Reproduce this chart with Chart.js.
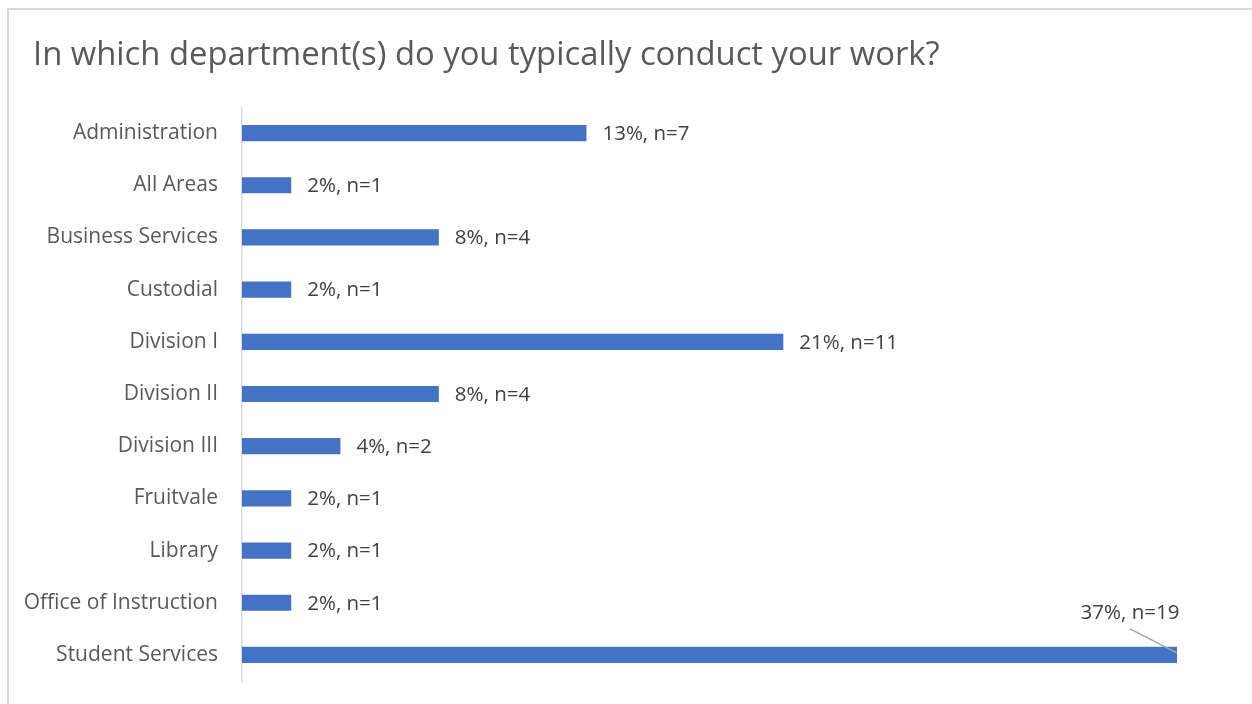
<!DOCTYPE html>
<html>
<head>
<meta charset="utf-8">
<script src="https://cdn.jsdelivr.net/npm/chart.js@4"></script>
<style>
  body { margin: 0; background: #fff; overflow: hidden; }
  #frame { position: absolute; left: 7px; top: 8px; width: 1260px; height: 720px; border: 2px solid #d9d9d9; box-sizing: border-box; }
  #myChart { position: absolute; left: 0; top: 0; }
</style>
</head>
<body>
<div id="frame"></div>
<canvas id="myChart" width="1252" height="704"></canvas>
<script>
const departments = ['Administration', 'All Areas', 'Business Services', 'Custodial', 'Division I', 'Division II',
  'Division III', 'Fruitvale', 'Library', 'Office of Instruction', 'Student Services'];
const counts = [7, 1, 4, 1, 11, 4, 2, 1, 1, 1, 19];
const percents = ['13%', '2%', '8%', '2%', '21%', '8%', '4%', '2%', '2%', '2%', '37%'];
const titleText = 'In which department(s) do you typically conduct your work?';

const FONT = '"Open Sans", sans-serif';

// chart title, drawn by hand so it can sit left of the axis labels
const titlePlugin = {
    id: 'leftTitle',
    afterDraw(chart) {
        const ctx = chart.ctx;
        ctx.save();
        ctx.font = '32.8px ' + FONT;
        ctx.fillStyle = '#595959';
        ctx.textAlign = 'left';
        ctx.textBaseline = 'alphabetic';
        ctx.fillText(titleText, 33, 65);
        ctx.restore();
    }
};

// value labels at bar ends; the last one sits above with a leader line
const valueLabels = {
    id: 'valueLabels',
    afterDatasetsDraw(chart) {
        const ctx = chart.ctx;
        const meta = chart.getDatasetMeta(0);
        ctx.save();
        ctx.font = '20.5px ' + FONT;
        ctx.fillStyle = '#404040';
        ctx.textBaseline = 'middle';
        meta.data.forEach((bar, i) => {
            const txt = percents[i] + ', n=' + counts[i];
            if (i === counts.length - 1) {
                ctx.textAlign = 'center';
                ctx.fillText(txt, bar.x - 47, bar.y - 42);
                ctx.strokeStyle = '#a6a6a6';
                ctx.lineWidth = 1.5;
                ctx.beginPath();
                ctx.moveTo(bar.x - 47, bar.y - 26);
                ctx.lineTo(bar.x, bar.y - 2);
                ctx.stroke();
            } else {
                ctx.textAlign = 'left';
                ctx.fillText(txt, bar.x + 16, bar.y + 1);
            }
        });
        ctx.restore();
    }
};

new Chart(document.getElementById('myChart'), {
    type: 'bar',
    data: {
        labels: departments,
        datasets: [{
            data: counts,
            backgroundColor: '#4472c4',
            borderWidth: 0,
            barPercentage: 0.62,
            categoryPercentage: 0.5
        }]
    },
    options: {
        indexAxis: 'y',
        responsive: false,
        animation: false,
        layout: { padding: { left: 0, top: 107, right: 75, bottom: 23 } },
        plugins: {
            legend: { display: false },
            tooltip: { enabled: false },
            title: { display: false }
        },
        scales: {
            x: { display: false, min: 0, max: 19 },
            y: {
                afterFit(scale) {
                    scale.width = 242;
                    scale.paddingTop = 0;
                    scale.paddingBottom = 0;
                },
                grid: { display: false, drawTicks: false },
                border: { display: true, color: '#d9d9d9', width: 1.5 },
                ticks: { color: '#595959', padding: 24, font: { family: FONT, size: 21 } }
            }
        }
    },
    plugins: [valueLabels, titlePlugin]
});
</script>
</body>
</html>
